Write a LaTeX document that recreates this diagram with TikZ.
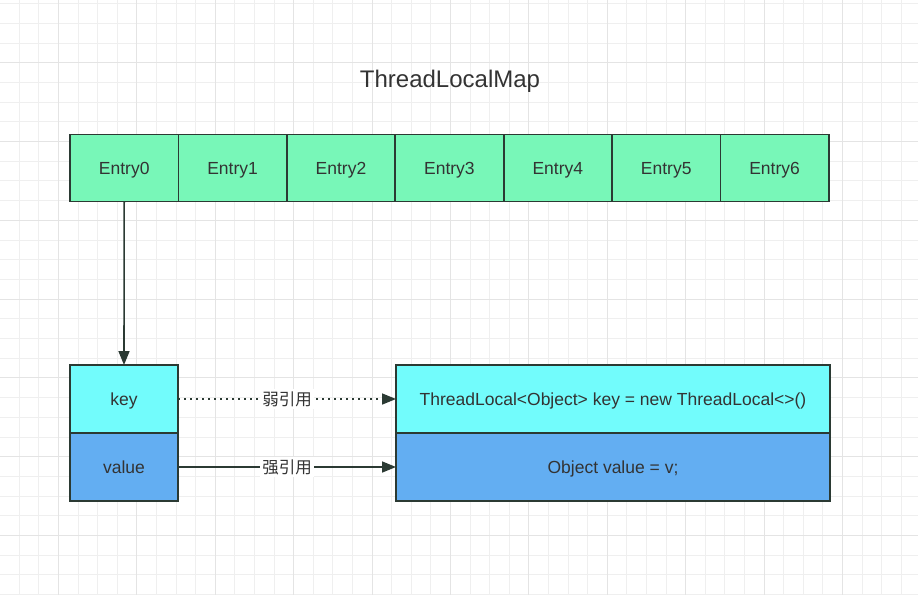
\documentclass[tikz,border=0pt]{standalone}
\usepackage{fontspec}
\setmainfont{Liberation Sans}
\newfontfamily\cjk{Noto Sans CJK SC}
\usetikzlibrary{arrows.meta}
\definecolor{entrygreen}{HTML}{78F7B8}
\definecolor{keycyan}{HTML}{72FCFC}
\definecolor{valblue}{HTML}{63AEF2}
\definecolor{edge}{HTML}{2B3A33}
\definecolor{txt}{HTML}{333333}
\definecolor{gridminor}{HTML}{EFEFEF}
\definecolor{gridmajor}{HTML}{E4E4E4}
\tikzset{
  cell/.style={outer sep=0pt, minimum height=67pt, inner sep=0pt, text height=16.5pt, text depth=3.7pt, text=txt, font=\fontsize{17.5}{20}\selectfont},
  entrycell/.style={cell, fill=entrygreen, minimum width=108.4pt},
  keycell/.style={cell, fill=keycyan, minimum width=108pt, minimum height=68pt},
  valcell/.style={cell, fill=valblue, minimum width=108pt, minimum height=68pt},
  objkey/.style={cell, fill=keycyan, minimum width=434pt, minimum height=68pt},
  objval/.style={cell, fill=valblue, minimum width=434pt, minimum height=68pt},
  outline/.style={draw=edge, line width=1.8pt},
  conn/.style={draw=edge, line width=1.6pt, -{Triangle[length=14pt,width=11pt]}},
  reflabel/.style={fill=white, inner sep=2.5pt, text=txt, font=\cjk\fontsize{16.5}{18}\selectfont},
}
\begin{document}
\begin{tikzpicture}[x=1pt,y=-1pt]
\useasboundingbox (0,0) rectangle (918,595);
\fill[white] (0,0) rectangle (918,595);
% grid
\foreach \i in {0,...,46} {
  \pgfmathsetmacro\xx{19.6*\i-0.4}
  \draw[gridminor, line width=0.8pt] (\xx,0) -- (\xx,595);
}
\foreach \i in {0,...,30} {
  \pgfmathsetmacro\yy{19.7*\i+3.5}
  \draw[gridminor, line width=0.8pt] (0,\yy) -- (918,\yy);
}
\foreach \i in {0,...,11} {
  \pgfmathsetmacro\xx{78.4*\i+58.4}
  \draw[gridmajor, line width=1pt] (\xx,0) -- (\xx,595);
}
\foreach \i in {0,...,7} {
  \pgfmathsetmacro\yy{78.8*\i+62.6}
  \draw[gridmajor, line width=1pt] (0,\yy) -- (918,\yy);
}
% title
\node[text=txt, font=\fontsize{24}{28}\selectfont] (title) at (450,81) {ThreadLocalMap};
% entries
\foreach \i in {0,...,6} {
  \node[entrycell] (e\i) at ({70+108.4*\i+54.2},168) {Entry\i};
}
% key/value
\node[keycell] (key) at (124,399) {key};
\node[valcell] (val) at (124,467) {value};
\node[objkey] (okey) at (613,399) {ThreadLocal<Object> key = new ThreadLocal<>()};
\node[objval] (oval) at (613,467) {Object value = v;};
% outlines on top of the fills
\foreach \n in {e0,e1,e2,e3,e4,e5,e6,key,val,okey,oval} {
  \draw[outline] (\n.north west) rectangle (\n.south east);
}
% connectors
\draw[conn] (e0.south) -- (key.north);
\draw[conn, dash pattern=on 1.8pt off 4.2pt] (key.east) -- node[reflabel] (weak) {弱引用} (okey.west);
\draw[conn] (val.east) -- node[reflabel] (strong) {强引用} (oval.west);
\end{tikzpicture}
\end{document}
